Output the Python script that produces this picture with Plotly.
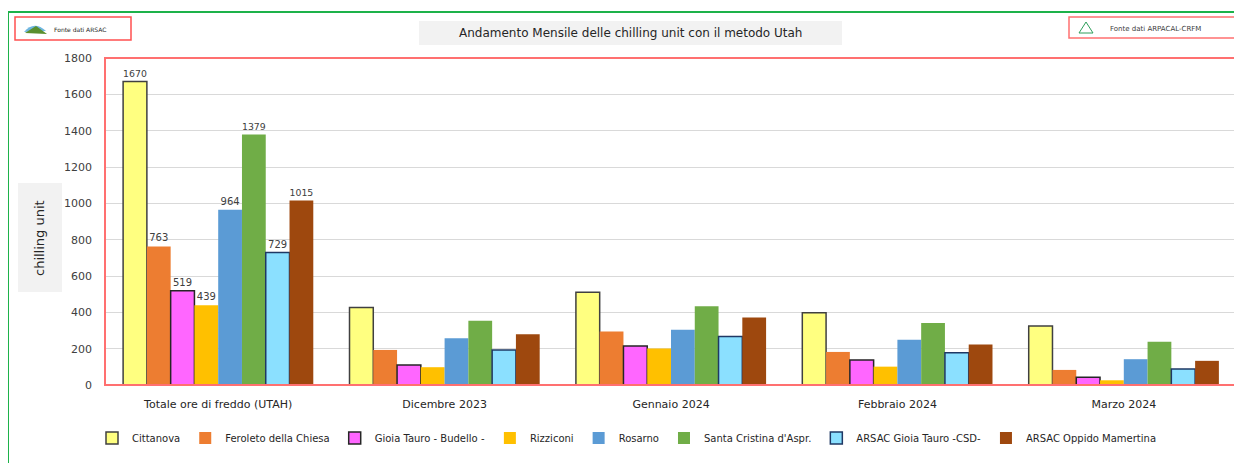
import plotly.graph_objects as go

categories = ["Totale ore di freddo (UTAH)", "Dicembre 2023", "Gennaio 2024", "Febbraio 2024", "Marzo 2024"]
series_names = ["Cittanova", "Feroleto della Chiesa", "Gioia Tauro - Budello -", "Rizziconi", "Rosarno",
                "Santa Cristina d'Aspr.", "ARSAC Gioia Tauro -CSD-", "ARSAC Oppido Mamertina"]
cittanova = [1670, 427, 510, 398, 325]
feroleto = [763, 193, 295, 182, 83]
gioia = [519, 110, 215, 138, 42]
rizziconi = [439, 98, 201, 101, 26]
rosarno = [964, 258, 304, 249, 142]
santa_cristina = [1379, 354, 433, 341, 238]
arsac_gioia = [729, 193, 267, 178, 88]
arsac_oppido = [1015, 280, 372, 223, 133]
series_values = [cittanova, feroleto, gioia, rizziconi, rosarno, santa_cristina, arsac_gioia, arsac_oppido]
y_ticks = [0, 200, 400, 600, 800, 1000, 1200, 1400, 1600, 1800]

colors = ["#FFFF80", "#ED7D31", "#FF66FF", "#FFC000", "#5B9BD5", "#70AD47", "#8BE0FF", "#9E480E"]
outlines = ["#404040", None, "#262626", None, None, None, "#1F3864", None]

# window pixel geometry (page body has an 8px margin)
OFF = 8
WIN_W, WIN_H = 1242, 463
L, R, T, B = 105, 1237, 58, 385
W, H = WIN_W - OFF, WIN_H - OFF
FONT = "DejaVu Sans"


def px(x):
    return (x - L) / (R - L)


def py(y):
    return (B - y) / (B - T)


fig = go.Figure()
for name, vals, c, oc in zip(series_names, series_values, colors, outlines):
    txt = [str(vals[0])] + [""] * (len(vals) - 1)
    fig.add_trace(go.Bar(
        name=name, x=categories, y=vals, text=txt, textposition="outside",
        textfont=dict(size=10, color="#404040", family=FONT), cliponaxis=False,
        marker=dict(color=c, line=dict(color=oc if oc else c, width=1.5 if oc else 0)),
    ))

shapes = [
    dict(type="rect", xref="paper", yref="paper", x0=px(8), x1=px(1241), y0=py(475), y1=py(12),
         line=dict(color="#1DB24A", width=2), layer="below"),
    dict(type="rect", xref="paper", yref="paper", x0=0, x1=1, y0=0, y1=1,
         line=dict(color="#FF7070", width=2), layer="above"),
    dict(type="rect", xref="paper", yref="paper", x0=px(15), x1=px(131), y0=py(40), y1=py(17),
         line=dict(color="#FF5050", width=1.5)),
    dict(type="rect", xref="paper", yref="paper", x0=px(1069), x1=px(1250), y0=py(38), y1=py(17),
         line=dict(color="#FF7070", width=1.5)),
    dict(type="rect", xref="paper", yref="paper", x0=px(18), x1=px(62), y0=py(292), y1=py(183),
         fillcolor="#F2F2F2", line=dict(width=0), layer="below"),
    dict(type="rect", xref="paper", yref="paper", x0=px(419), x1=px(842), y0=py(45), y1=py(21),
         fillcolor="#F2F2F2", line=dict(width=0), layer="below"),
    # small logos
    dict(type="path", xref="paper", yref="paper",
         path=f"M {px(24)},{py(32)} Q {px(34)},{py(20)} {px(46)},{py(31)} Z",
         fillcolor="#6FB6E0", line=dict(width=0)),
    dict(type="path", xref="paper", yref="paper",
         path=f"M {px(25)},{py(33)} L {px(36)},{py(26)} L {px(47)},{py(34)} Z",
         fillcolor="#5A8F2E", line=dict(width=0)),
    dict(type="path", xref="paper", yref="paper",
         path=f"M {px(1079)},{py(33)} L {px(1086)},{py(22)} L {px(1093)},{py(33)} Z",
         fillcolor="rgba(0,0,0,0)", line=dict(color="#2E9E5B", width=1)),
]

annotations = [
    dict(text="Andamento Mensile delle chilling unit con il metodo Utah", xref="paper", yref="paper",
         x=px(630), y=py(33), xanchor="center", yanchor="middle", showarrow=False,
         font=dict(size=12, color="#262626", family=FONT)),
    dict(text="chilling unit", textangle=-90, xref="paper", yref="paper", x=px(39), y=py(238),
         xanchor="center", yanchor="middle", showarrow=False,
         font=dict(size=13, color="#262626", family=FONT)),
    dict(text="Fonte dati ARSAC", xref="paper", yref="paper", x=px(52), y=py(29), xanchor="left",
         yanchor="middle", showarrow=False, font=dict(size=6, color="#262626", family=FONT)),
    dict(text="Fonte dati ARPACAL-CRFM", xref="paper", yref="paper", x=px(1108), y=py(29), xanchor="left",
         yanchor="middle", showarrow=False, font=dict(size=7, color="#404040", family=FONT)),
]

fig.update_layout(
    width=W, height=H,
    margin=dict(l=L - OFF, r=WIN_W - R, t=T - OFF, b=WIN_H - B, autoexpand=False),
    paper_bgcolor="white", plot_bgcolor="white",
    barmode="group", bargap=0.16, bargroupgap=0,
    font=dict(family=FONT, color="#262626"),
    showlegend=True,
    legend=dict(orientation="h", x=px(627), xanchor="center", y=py(438), yanchor="middle",
                font=dict(size=10, color="#262626", family=FONT), itemwidth=30, tracegroupgap=0),
    xaxis=dict(tickfont=dict(size=11, color="#262626", family=FONT), showgrid=False, ticks="",
               ticklabelstandoff=11),
    yaxis=dict(range=[0, 1800], tickvals=y_ticks, tickfont=dict(size=11, color="#404040", family=FONT),
               gridcolor="#D9D9D9", gridwidth=1, zeroline=False, ticklabelstandoff=12),
    shapes=shapes, annotations=annotations,
)

fig.write_html("out.html")
